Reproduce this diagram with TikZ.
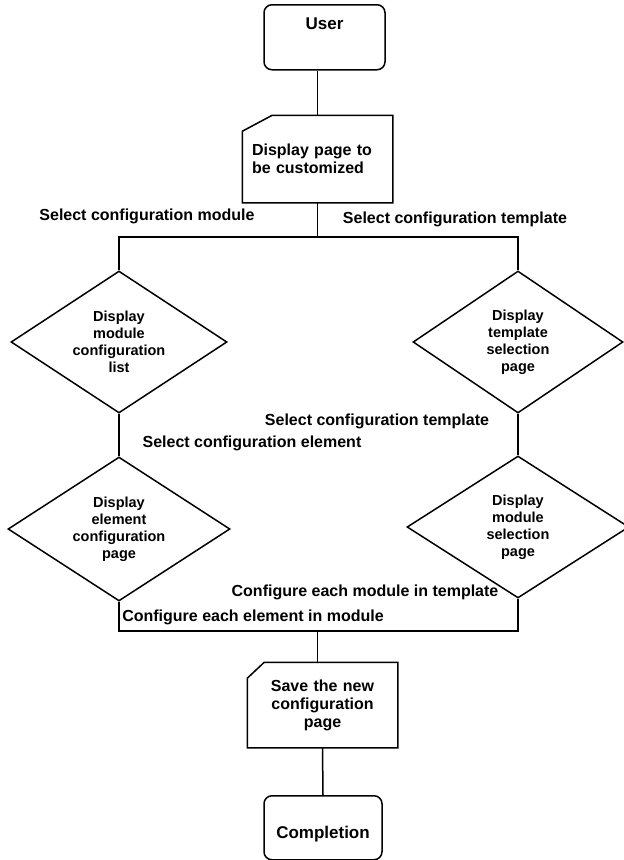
\documentclass[tikz,border=0pt]{standalone}
\usepackage{fontspec}
\setmainfont{Liberation Sans}
\usetikzlibrary{shapes.geometric,positioning}

\begin{document}
\begin{tikzpicture}[x=1pt,y=-1pt, line width=1.5pt,
  term/.style={draw,rounded corners=8pt,inner sep=6pt,font=\fontsize{17}{17}\selectfont\bfseries},
  card/.style={inner sep=0pt,minimum width=149pt,font=\fontsize{16}{18}\selectfont\bfseries},
  choice/.style={diamond,aspect=1.5,draw,inner sep=0pt,text width=95pt,align=center,font=\fontsize{14.5}{17}\selectfont\bfseries},
  lbl/.style={inner sep=0pt,font=\fontsize{16}{16}\selectfont\bfseries}]
\useasboundingbox (0,0) rectangle (624,860);

% start / end
\node[term,anchor=north,minimum width=121pt,text height=19pt,text depth=34pt] (user) at (324.5,4) {User};
\node[term,anchor=north,minimum width=118pt,text height=37pt,text depth=15pt] (done) at (323,795) {Completion};

% page cards
\node[card,minimum height=86pt,text width=131pt,align=left] (disp) at (317.5,159) {Display page to\\be customized};
\node[card,minimum height=84pt,text width=135pt,align=center] (save) at (322.5,705) {Save the new\\configuration\\page};
\draw (disp.north east) -- (disp.south east) -- (disp.south west) -- ([yshift=-16pt]disp.north west) -- ([xshift=30pt]disp.north west) -- cycle;
\draw (save.north east) -- (save.south east) -- (save.south west) -- ([yshift=-16pt]save.north west) -- ([xshift=17pt]save.north west) -- cycle;

% decisions
\node[choice,minimum width=216pt,minimum height=142pt] (modlist) at (119,342) {Display\\module\\configuration\\list};
\node[choice,minimum width=210pt,minimum height=142pt] (tplsel) at (518,342) {Display\\template\\selection\\page};
\node[choice,minimum width=222pt,minimum height=144pt] (elemcfg) at (119,529) {Display\\element\\configuration\\page};
\node[choice,minimum width=222pt,minimum height=142pt] (modsel) at (518,527) {Display\\module\\selection\\page};

\coordinate (split) at (317.5,237);
\coordinate (merge) at (317.5,631);

\draw (disp.north |- user.south) -- (disp.north);
\draw (disp.south) -- (split) -| (modlist.north);
\draw (split) -| (tplsel.north);
\draw (modlist.south) -- (elemcfg.north);
\draw (tplsel.south) -- (modsel.north);
\draw (elemcfg.south) |- (merge) -| (modsel.south);
\draw (merge) -- (merge |- save.north);
\draw (save.south) -- (done.north);

% edge labels
\node[lbl] (l1) at (147,216) {Select configuration module};
\node[lbl] (l2) at (455,219) {Select configuration template};
\node[lbl] (l3) at (377,421) {Select configuration template};
\node[lbl] (l4) at (252,443) {Select configuration element};
\node[lbl] (l5) at (365,592) {Configure each module in template};
\node[lbl] (l6) at (253,617) {Configure each element in module};
\end{tikzpicture}
\end{document}
